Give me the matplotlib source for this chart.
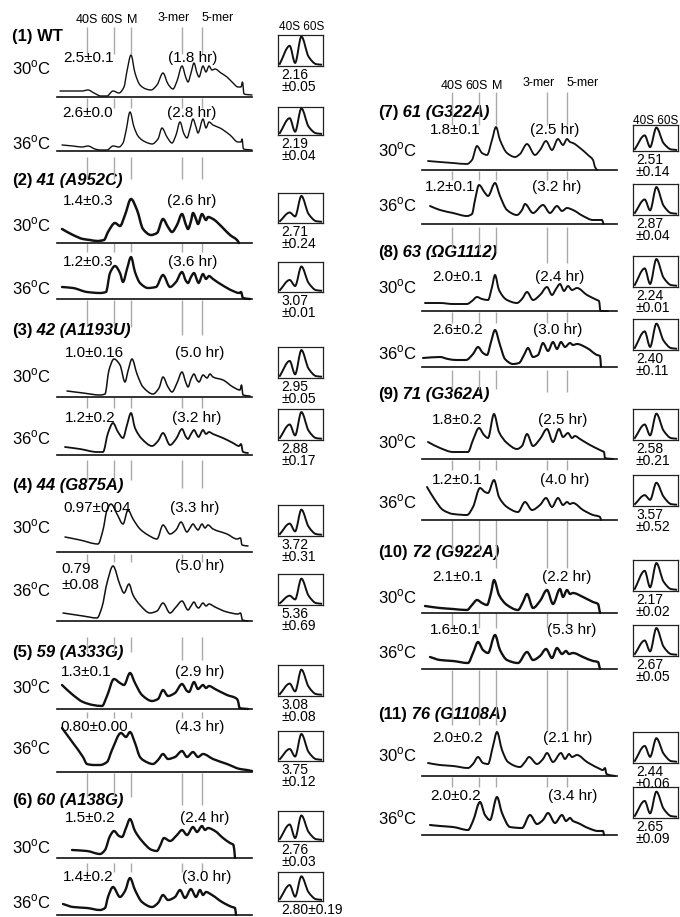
"""Sucrose-gradient polysome profiles of WT and 18S rRNA mutants at 30 and 36 C.

Each trace is stored as (gradient depth, A254 height) readings; the little
boxes on the right zoom on the 40S/60S subunit peaks.
"""
import matplotlib
matplotlib.use("Agg")
import matplotlib.pyplot as plt
import numpy as np
from matplotlib.path import Path
from matplotlib.patches import PathPatch

plt.rcParams["font.family"] = ["Liberation Sans", "DejaVu Sans"]
plt.rcParams["mathtext.fontset"] = "custom"
plt.rcParams["mathtext.rm"] = "Liberation Sans"

# ---------------------------------------------------------------- data
groups = [("(1) ", "WT"), ("(2) ", "41 (A952C)"), ("(3) ", "42 (A1193U)"),
          ("(4) ", "44 (G875A)"), ("(5) ", "59 (A333G)"), ("(6) ", "60 (A138G)"),
          ("(7) ", "61 (G322A)"), ("(8) ", "63 (\u03a9G1112)"), ("(9) ", "71 (G362A)"),
          ("(10) ", "72 (G922A)"), ("(11) ", "76 (G1108A)")]
temps = ["30", "36"]

marker_names = ["40S", "60S", "M", "3-mer", "5-mer"]
marker_depth = [29, 56, 73, 124, 144]

# polysome / monosome ratio and polysome half-life, one entry per trace
ps_ratio = ["2.5\u00b10.1", "2.6\u00b10.0", "1.4\u00b10.3", "1.2\u00b10.3",
            "1.0\u00b10.16", "1.2\u00b10.2", "0.97\u00b10.04", "0.79\n\u00b10.08",
            "1.3\u00b10.1", "0.80\u00b10.00", "1.5\u00b10.2", "1.4\u00b10.2",
            "1.8\u00b10.1", "1.2\u00b10.1", "2.0\u00b10.1", "2.6\u00b10.2",
            "1.8\u00b10.2", "1.2\u00b10.1", "2.1\u00b10.1", "1.6\u00b10.1",
            "2.0\u00b10.2", "2.0\u00b10.2"]
half_life = [1.8, 2.8, 2.6, 3.6, 5.0, 3.2, 3.3, 5.0, 2.9, 4.3, 2.4, 3.0,
             2.5, 3.2, 2.4, 3.0, 2.5, 4.0, 2.2, 5.3, 2.1, 3.4]

# 60S / 40S ratio
sub_mean = [2.16, 2.19, 2.71, 3.07, 2.95, 2.88, 3.72, 5.36, 3.08, 3.75, 2.76, 2.80,
            2.51, 2.87, 2.24, 2.40, 2.58, 3.57, 2.17, 2.67, 2.44, 2.65]
sub_sd = [0.05, 0.04, 0.24, 0.01, 0.05, 0.17, 0.31, 0.69, 0.08, 0.12, 0.03, 0.19,
          0.14, 0.04, 0.01, 0.11, 0.21, 0.52, 0.02, 0.05, 0.06, 0.09]

# subunit inset peak heights (fraction of box)
inset_40s = [0.65, 0.6, 0.35, 0.4, 0.55, 0.5, 0.4, 0.3, 0.4, 0.4, 0.55, 0.55,
             0.6, 0.5, 0.6, 0.6, 0.5, 0.35, 0.65, 0.5, 0.55, 0.55]
inset_valley = [0.1, 0.12, 0.22, 0.2, 0.12, 0.15, 0.15, 0.18, 0.15, 0.15, 0.1, 0.15,
                0.15, 0.15, 0.1, 0.1, 0.15, 0.2, 0.12, 0.15, 0.2, 0.15]
inset_60s = [0.95, 0.95, 0.9, 0.85, 0.9, 0.9, 0.85, 0.85, 0.85, 0.9, 0.85, 0.85,
             0.9, 0.9, 0.9, 0.85, 0.85, 0.75, 0.9, 0.9, 0.8, 0.85]

# profiles: (depth, A254)
wt_30 = [(2, 6), (15, 6), (24, 6), (30, 7), (36, 4), (43, 1), (49, 1), (55, 6), (61, 4),
         (66, 10), (69, 26), (73, 42), (77, 24), (82, 12), (88, 8), (93, 7), (99, 12),
         (105, 24), (110, 13), (115, 8), (119, 16), (124, 31), (128, 19), (130, 15),
         (133, 24), (136, 34), (139, 24), (141, 20), (145, 31), (148, 25), (151, 31),
         (154, 27), (157, 28), (163, 24), (169, 20), (175, 14), (180, 10), (183, 10),
         (184.5, 15), (186, 3), (194, 2)]
wt_36 = [(4, 6), (15, 5), (24, 4), (30, 5), (37, 2), (42, 1), (49, 1), (55, 5), (61, 4),
         (65, 8), (68, 20), (72, 39), (76, 24), (80, 15), (84, 11), (90, 8), (94, 7),
         (100, 12), (104, 23), (109, 14), (114, 8), (118, 16), (122, 29), (126, 17),
         (129, 13), (132, 22), (135, 32), (138, 24), (140, 18), (145, 32), (148, 23),
         (151, 29), (155, 26), (162, 23), (172, 16), (180, 9), (183, 9), (184, 12),
         (185.5, 2), (194, 1)]
m41_30 = [(4, 14), (15, 8), (25, 4), (32, 3), (39, 2), (46, 3), (50, 11), (57, 20),
          (62, 17), (67, 28), (73, 44), (79, 33), (85, 14), (93, 8), (99, 10), (105, 24),
          (110, 16), (114, 11), (119, 18), (124, 29), (128, 18), (130, 14), (133, 22),
          (135, 30), (138, 24), (140, 19), (144, 29), (148, 23), (150, 26), (155, 24),
          (164, 16), (172, 8), (179, 3), (181, 0)]
m41_36 = [(4, 12), (15, 11), (29, 7), (42, 6), (48, 7), (52, 26), (57, 33), (62, 26),
          (65, 17), (69, 30), (73, 42), (77, 27), (82, 16), (90, 11), (98, 12), (105, 24),
          (112, 12), (118, 17), (124, 27), (128, 18), (130, 16), (133, 22), (136, 26),
          (139, 19), (140.5, 16), (145, 25), (148, 20), (151, 23), (155, 20), (164, 14),
          (175, 8), (181, 6), (183, 7), (185, 1), (192, 0)]
m42_30 = [(9, 6), (25, 4), (42, 2), (47, 3), (51, 27), (56, 38), (62, 32), (67, 15),
          (70, 26), (74, 38), (79, 23), (85, 10), (95, 3), (101, 9), (105, 20), (110, 10),
          (114, 5), (119, 14), (124, 25), (128, 14), (130, 10), (133, 18), (136, 23),
          (139, 17), (141, 15), (145, 22), (149, 19), (152, 23), (155, 20), (165, 17),
          (175, 10), (182, 7), (183.5, 12), (185, 2), (192, 1)]
m42_36 = [(7, 8), (22, 6), (39, 3), (45, 3), (50, 22), (55, 32), (60, 23), (65, 17),
          (69, 30), (73, 42), (77, 27), (84, 16), (94, 9), (100, 14), (105, 22), (112, 10),
          (118, 16), (124, 26), (128, 18), (130, 16), (133, 21), (136, 25), (139, 20),
          (140.5, 18), (145, 25), (148, 21), (151, 23), (155, 21), (165, 17), (175, 12),
          (181, 9), (183, 11), (185, 3), (190, 2)]
m44_30 = [(7, 15), (22, 12), (40, 8), (45, 22), (49, 42), (53, 48), (59, 38), (65, 28),
          (70, 42), (75, 33), (82, 23), (90, 17), (99, 13), (105, 27), (112, 18), (118, 22),
          (123, 30), (129, 20), (132, 24), (135, 28), (138, 24), (140, 22), (144, 28),
          (147, 24), (150, 27), (155, 23), (169, 18), (179, 13), (182.5, 14), (184, 7),
          (190, 6)]
m44_36 = [(5, 8), (25, 5), (39, 3), (44, 14), (49, 38), (55, 55), (62, 36), (66, 28),
          (71, 37), (75, 26), (82, 16), (92, 8), (99, 10), (105, 18), (112, 8), (118, 14),
          (124, 20), (130, 11), (133, 15), (136, 19), (139, 14), (140.5, 13), (145, 18),
          (148, 15), (151, 17), (157, 14), (169, 9), (180, 7), (182.5, 8), (184.5, 1),
          (190, 0)]
m59_30 = [(4, 24), (15, 14), (25, 7), (35, 4), (44, 3), (49, 13), (56, 30), (62, 26),
          (66, 24), (72, 36), (77, 26), (84, 14), (94, 8), (100, 10), (105, 19), (110, 13),
          (117, 16), (124, 25), (129, 18), (131, 17), (136, 27), (140, 20), (145, 24),
          (148, 21), (151, 23), (157, 20), (169, 14), (179, 10), (180.5, 6), (181.5, 1),
          (190, 0)]
m59_36 = [(4, 44), (15, 29), (25, 15), (29, 8), (36, 7), (42, 7), (49, 10), (54, 22),
          (63, 39), (68, 35), (72, 40), (77, 29), (82, 15), (85, 12), (95, 8), (100, 12),
          (105, 18), (110, 13), (117, 15), (124, 21), (129, 15), (135, 20), (140, 15),
          (145, 18), (155, 13), (169, 8), (182, 3), (189, 2), (194, 1)]
m60_30 = [(14, 8), (29, 7), (42, 4), (47, 8), (52, 22), (56, 27), (61, 22), (64, 21),
          (68, 30), (72, 39), (77, 27), (84, 17), (94, 8), (99, 7), (102, 12), (106, 20),
          (112, 17), (119, 23), (124, 28), (129, 23), (135, 31), (139, 26), (144, 32),
          (147, 28), (150, 30), (157, 27), (165, 20), (172, 15), (175.5, 13), (177, 0)]
m60_36 = [(5, 11), (15, 8), (29, 7), (42, 5), (47, 7), (50, 18), (55, 28), (62, 18),
          (67, 24), (72, 37), (77, 25), (84, 13), (94, 8), (100, 12), (105, 20), (110, 15),
          (117, 18), (122, 25), (127, 17), (133, 26), (138, 18), (142, 25), (145, 20),
          (148, 23), (154, 20), (164, 13), (174, 8), (177, 7), (178, 0)]
m61_30 = [(5, 9), (17, 8), (30, 7), (44, 6), (49, 10), (54, 24), (59, 17), (64, 15),
          (69, 30), (73, 43), (77, 30), (84, 17), (92, 13), (97, 16), (104, 26), (112, 15),
          (117, 20), (123, 29), (129, 20), (135, 31), (140, 25), (144, 31), (147, 28),
          (150, 27), (157, 22), (165, 15), (170, 10), (172, 3), (174, 0)]
m61_36 = [(7, 18), (17, 14), (30, 11), (44, 8), (49, 10), (52, 24), (56, 39), (62, 31),
          (65, 28), (72, 41), (77, 28), (84, 14), (94, 9), (99, 14), (102, 20), (110, 11),
          (120, 19), (127, 11), (134, 18), (139, 13), (144, 16), (150, 14), (160, 8),
          (170, 4), (179, 4), (180.5, 0)]
m63_30 = [(2, 8), (17, 8), (30, 7), (44, 7), (49, 10), (54, 14), (59, 12), (65, 11),
          (69, 24), (72, 36), (76, 21), (84, 11), (94, 8), (99, 12), (104, 19), (110, 11),
          (117, 16), (124, 24), (129, 16), (133, 22), (137, 27), (141, 20), (145, 25),
          (149, 21), (154, 23), (164, 16), (174, 11), (176, 10), (177.5, 0), (185, 0)]
m63_36 = [(0, 9), (17, 10), (25, 8), (33, 7), (43, 7), (50, 13), (55, 20), (60, 14),
          (64, 12), (68, 25), (72, 37), (77, 22), (82, 8), (90, 3), (96, 4), (101, 12),
          (105, 19), (110, 10), (115, 12), (120, 24), (125, 16), (130, 25), (134, 18),
          (138, 25), (142, 20), (147, 24), (150, 22), (154, 23), (164, 19), (174, 12),
          (177, 11), (178, 0)]
m71_30 = [(5, 17), (17, 11), (30, 7), (45, 7), (50, 19), (56, 31), (61, 24), (65, 21),
          (71, 45), (76, 27), (84, 16), (94, 10), (99, 13), (104, 25), (110, 13), (117, 20),
          (124, 30), (130, 17), (136, 30), (140, 22), (145, 26), (149, 21), (152, 23),
          (157, 20), (167, 14), (179, 8), (181, 7), (182, 1), (190, 0)]
m71_36 = [(4, 33), (12, 20), (20, 10), (30, 6), (44, 5), (50, 13), (57, 32), (62, 28),
          (65, 27), (71, 40), (76, 23), (84, 13), (95, 8), (102, 18), (109, 10), (117, 15),
          (123, 22), (129, 13), (135, 22), (140, 15), (144, 18), (147, 16), (150, 17),
          (160, 10), (170, 5), (177, 3), (178, 0)]
m72_30 = [(2, 7), (17, 5), (30, 4), (44, 3), (49, 8), (54, 13), (59, 10), (64, 8),
          (68, 20), (71, 33), (76, 18), (84, 8), (95, 3), (100, 11), (104, 19), (110, 5),
          (117, 12), (124, 23), (130, 9), (137, 24), (140, 16), (144, 23), (147, 19),
          (150, 20), (160, 16), (170, 11), (175, 9), (177, 0)]
m72_36 = [(7, 12), (17, 9), (30, 8), (45, 6), (50, 16), (55, 27), (60, 19), (65, 16),
          (72, 34), (77, 19), (84, 9), (95, 6), (104, 17), (110, 9), (117, 13), (123, 20),
          (129, 11), (134, 21), (139, 15), (143, 18), (146, 15), (150, 16), (160, 12),
          (170, 8), (175, 7), (177, 0)]
m76_30 = [(5, 13), (17, 11), (30, 10), (45, 8), (50, 12), (55, 19), (60, 13), (65, 12),
          (70, 30), (74, 44), (79, 26), (85, 14), (97, 9), (102, 14), (106, 19), (114, 12),
          (120, 17), (124, 23), (130, 14), (138, 23), (142, 17), (146, 22), (149, 19),
          (154, 21), (164, 14), (175, 8), (180, 6), (182, 8), (183.5, 2), (192, 0)]
m76_36 = [(7, 10), (17, 9), (30, 8), (45, 5), (50, 14), (57, 33), (62, 20), (67, 15),
          (74, 38), (79, 22), (87, 8), (99, 7), (107, 20), (114, 11), (120, 15), (125, 22),
          (132, 12), (139, 20), (143, 14), (147, 17), (150, 14), (155, 12), (165, 7),
          (175, 4), (180, 4), (181, 0)]

profiles = [wt_30, wt_36, m41_30, m41_36, m42_30, m42_36, m44_30, m44_36,
            m59_30, m59_36, m60_30, m60_36, m61_30, m61_36, m63_30, m63_36,
            m71_30, m71_36, m72_30, m72_36, m76_30, m76_36]

# ---------------------------------------------------------------- layout (pixels)
W, H = 680, 917
TRACE_W = 194
YMAX = 60
COL_X0 = {"L": 58, "R": 423}
COL_TEXT = {"L": 12, "R": 378}
COL_BOX = {"L": 278, "R": 633}
group_y = [37, 180, 330, 486, 653, 800, 113, 253, 395, 553, 715]

# col, baseline, temp y, ratio x, ratio y, hour x, box top, box bottom, lw
rows = [
    ("L", 97, 68, 63, 58, 168, 35, 66, 1.0),
    ("L", 151, 143, 62, 113, 167, 107, 135, 1.0),
    ("L", 243, 225, 63, 201, 167, 193, 223, 1.8),
    ("L", 299, 288, 63, 262, 168, 262, 292, 1.7),
    ("L", 397, 376, 65, 353, 175, 347, 378, 1.1),
    ("L", 455, 438, 65, 418, 172, 409, 440, 1.3),
    ("L", 552, 527, 63, 508, 170, 505, 536, 1.1),
    ("L", 621, 590, 61, 577, 175, 574, 605, 1.1),
    ("L", 709, 687, 61, 672, 175, 665, 696, 1.7),
    ("L", 772, 748, 60, 727, 175, 731, 761, 1.7),
    ("L", 858, 847, 65, 818, 180, 811, 841, 1.7),
    ("L", 915, 902, 63, 877, 182, 872, 901, 1.7),
    ("R", 170, 150, 430, 130, 530, 125, 151, 1.3),
    ("R", 224, 205, 425, 187, 532, 184, 215, 1.4),
    ("R", 311, 287, 432, 277, 535, 256, 287, 1.4),
    ("R", 367, 353, 432, 330, 533, 319, 350, 1.5),
    ("R", 459, 442, 432, 420, 538, 409, 440, 1.4),
    ("R", 520, 502, 432, 480, 540, 475, 506, 1.4),
    ("R", 613, 597, 432, 577, 542, 560, 591, 1.7),
    ("R", 669, 652, 430, 630, 547, 625, 656, 1.7),
    ("R", 776, 755, 432, 738, 543, 732, 763, 1.4),
    ("R", 835, 818, 430, 796, 548, 787, 818, 1.5),
]
# gray guide segments below each trace: start, ends for the 5 markers
guides = [
    (1, [11] * 5), (6, [28] * 5), (0, [9] * 5), (1, [26, 28, 28, 36, 36]),
    (0, [11] * 5), (5, [25, 25, 25, 33, 33]), (2, [10] * 5), (16, [31, 31, 31, 39, 39]),
    (3, [9] * 5), (1, [25, 25, 25, 33, 33]), (5, [14] * 5), None,
    (1, [10] * 5), (3, [24, 27, 29, 39, 39]), (1, [12] * 5), (3, [22, 22, 22, 25, 25]),
    (1, [11] * 5), (0, [30, 30, 48, 48, 48]), (0, [15] * 5), (1, [56, 56, 56, 62, 62]),
    (1, [11] * 5), None,
]
header_label_x = [29, 54, 74, 116, 160]
GRAY = "#a9a9a9"
INK = "#111111"


def fx(px):
    return px / W


def fy(py):
    return 1 - py / H


def smooth_path(pts):
    """Monotone cubic through the readings, as a Bezier path."""
    x = np.array([p[0] for p in pts], float)
    y = np.array([p[1] for p in pts], float)
    h = np.diff(x)
    d = np.diff(y) / h
    m = np.zeros_like(x)
    m[0], m[-1] = d[0], d[-1]
    for i in range(1, len(x) - 1):
        if d[i - 1] * d[i] <= 0:
            m[i] = 0.0
        else:
            w1 = 2 * h[i] + h[i - 1]
            w2 = h[i] + 2 * h[i - 1]
            m[i] = (w1 + w2) / (w1 / d[i - 1] + w2 / d[i])
    verts = [(x[0], y[0])]
    codes = [Path.MOVETO]
    for i in range(len(x) - 1):
        verts += [(x[i] + h[i] / 3, y[i] + m[i] * h[i] / 3),
                  (x[i + 1] - h[i] / 3, y[i + 1] - m[i + 1] * h[i] / 3),
                  (x[i + 1], y[i + 1])]
        codes += [Path.CURVE4] * 3
    return Path(verts, codes)


def draw_trace(fig, i):
    col, base, temp_y, rx, ry, hx, btop, bbot, lw = rows[i]
    x0 = COL_X0[col]
    ax = fig.add_axes([fx(x0 - 1), fy(base), (TRACE_W + 1) / W, YMAX / H])
    ax.set_xlim(-1, TRACE_W)
    ax.set_ylim(0, YMAX)
    ax.patch.set_alpha(0)
    for side in ["top", "left", "right"]:
        ax.spines[side].set_visible(False)
    ax.spines["bottom"].set_linewidth(1.2)
    ax.spines["bottom"].set_color(INK)
    ax.set_xticks([])
    ax.set_yticks([])
    ax.add_patch(PathPatch(smooth_path(profiles[i]), fill=False, lw=lw,
                           edgecolor=INK, clip_on=False, capstyle="round",
                           joinstyle="round"))
    g = guides[i]
    if g is not None:
        start, ends = g
        for dep, end in zip(marker_depth, ends):
            ax.vlines(dep, -end, -start, color=GRAY, lw=1.0, clip_on=False)
    return ax


def draw_header(ax, base, label_y, mer_y, line_top, line_bot):
    for j, name in enumerate(marker_names):
        ly = mer_y if "mer" in name else label_y
        ax.text(header_label_x[j], base - ly, name, ha="center", va="center",
                fontsize=9, clip_on=False)
        ax.vlines(marker_depth[j], base - line_bot, base - line_top, color=GRAY,
                  lw=1.0, clip_on=False)


def draw_inset(fig, i):
    col, base, temp_y, rx, ry, hx, btop, bbot, lw = rows[i]
    bx = COL_BOX[col]
    ax = fig.add_axes([fx(bx), fy(bbot), 45 / W, (bbot - btop) / H])
    ax.set_xlim(0, 1)
    ax.set_ylim(0, 1)
    ax.set_xticks([])
    ax.set_yticks([])
    for sp in ax.spines.values():
        sp.set_linewidth(0.9)
        sp.set_color("#222222")
    pts = [(0.03, 0.04), (0.26, inset_40s[i]), (0.38, inset_valley[i]),
           (0.52, inset_60s[i]), (0.68, 0.3), (0.85, 0.06), (0.98, 0.04)]
    ax.add_patch(PathPatch(smooth_path(pts), fill=False, lw=1.4, edgecolor=INK))
    tx = fx(bx + 3)
    if i == 11:
        label = f"{sub_mean[i]:.2f}\u00b1{sub_sd[i]:.2f}"
    else:
        label = f"{sub_mean[i]:.2f}\n\u00b1{sub_sd[i]:.2f}"
    fig.text(tx, fy(bbot + 2), label, fontsize=10, va="top", ha="left",
             linespacing=0.85)


def main():
    fig = plt.figure(figsize=(W / 100, H / 100), dpi=100)
    bg = fig.add_axes([0, 0, 1, 1])
    bg.set_axis_off()

    axes = []
    for i in range(len(rows)):
        axes.append(draw_trace(fig, i))
        draw_inset(fig, i)
        col, base, temp_y, rx, ry, hx, btop, bbot, lw = rows[i]
        fig.text(fx(COL_TEXT[col]), fy(temp_y), temps[i % 2] + r"$^{\rm o}$C",
                 fontsize=12, va="center", ha="left")
        fig.text(fx(rx), fy(ry), ps_ratio[i], fontsize=11, va="center", ha="left",
                 linespacing=1.15)
        hy = 566 if "\n" in ps_ratio[i] else ry
        fig.text(fx(hx), fy(hy), f"({half_life[i]:.1f} hr)", fontsize=11,
                 va="center", ha="left")

    # column headers
    draw_header(axes[0], rows[0][1], 20, 18, 27, 54)
    draw_header(axes[12], rows[12][1], 86, 83, 92, 125)
    fig.text(fx(COL_BOX["L"] + 1), fy(27), "40S 60S", fontsize=8.5, va="center")
    fig.text(fx(COL_BOX["R"]), fy(121), "40S 60S", fontsize=8.5, va="center")

    # strain labels
    for k, (num, name) in enumerate(groups):
        col = "L" if k < 6 else "R"
        if name == "WT":
            fig.text(fx(COL_TEXT[col]), fy(group_y[k]), num + name, fontsize=12,
                     fontweight="bold", va="center", ha="left")
            continue
        t1 = fig.text(fx(COL_TEXT[col]), fy(group_y[k]), num.strip(), fontsize=12,
                      fontweight="bold", va="center", ha="left")
        bg.annotate(" " + name, xy=(1, 0), xycoords=t1, va="bottom", ha="left",
                    fontsize=12, fontweight="bold", fontstyle="italic")

    fig.savefig("out.png", dpi=100)
    plt.close(fig)


if __name__ == "__main__":
    main()
